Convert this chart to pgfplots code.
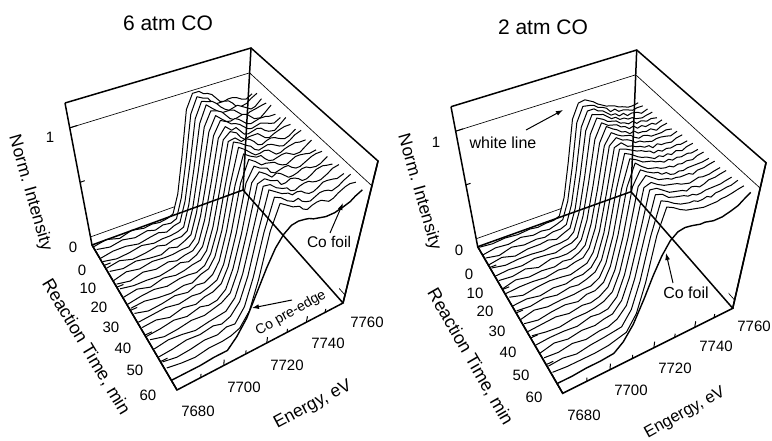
\documentclass[border=0pt]{standalone}
\usepackage{fontspec}
\setmainfont{Liberation Sans}
\usepackage{pgfplots}
\usepackage{pgfplotstable}
\pgfplotsset{compat=1.18}
\usetikzlibrary{arrows.meta}
\pgfmathdeclarefunction{lx}{3}{\pgfmathparse{(92+186.46*((#1-7680)/80)+53.44*(#2/60))/(1+0.1459*((#1-7680)/80)-0.1783*(#2/60))+(#3/1.2)*(-27+35*((#1-7680)/80)+27*(#2/60))}}
\pgfmathdeclarefunction{ly}{3}{\pgfmathparse{(245-27.28*((#1-7680)/80)+75.46*(#2/60))/(1+0.1459*((#1-7680)/80)-0.1783*(#2/60))-142*(#3/1.2)}}
\pgfmathdeclarefunction{rx}{3}{\pgfmathparse{(477.7+234.9*((#1-7680)/80)-13.8*(#2/60))/(1+0.1293*((#1-7680)/80)-0.1756*(#2/60))+(#3/1.2)*(-26.7+32.4*((#1-7680)/80)+27.6*(#2/60))}}
\pgfmathdeclarefunction{ry}{3}{\pgfmathparse{(246.7-30.21*((#1-7680)/80)+77.54*(#2/60))/(1+0.1293*((#1-7680)/80)-0.1756*(#2/60))-(140+1.7*((#1-7680)/80)+3.9*(#2/60))*(#3/1.2)}}
\pgfplotsset{
 table/lp/.style={x expr={lx(\thisrow{E},\thisrow{t},\thisrow{h})},y expr={ly(\thisrow{E},\thisrow{t},\thisrow{h})}},
 table/rp/.style={x expr={rx(\thisrow{E},\thisrow{t},\thisrow{h})},y expr={ry(\thisrow{E},\thisrow{t},\thisrow{h})}},
 thick frame/.style={draw=black,line width=1.5pt,no marks,forget plot,line join=miter},
 thin frame/.style={draw=black,line width=0.65pt,no marks,forget plot},
 tick seg/.style={draw=black,line width=1pt,no marks,forget plot,empty line=jump},
 curve/.style={draw=black,line width=1pt,no marks,forget plot,line join=round},
}
\tikzset{tk/.style={font=\fontsize{15}{15}\selectfont,inner sep=0pt}}
\pgfplotstableread{
E c0 c1 c2 c3 c4 c5 c6 c7 c8 c9 c10 c11 c12 c13 c14 c15 c16 c17 c18 c19 c20 c21
7680 .02 .04 .01 .03 .02 .04 .01 .03 .04 .02 .01 .03 .04 .02 .03 .01 .04 .02 .01 .03 .04 .01
7686 .04 .02 .03 .01 .04 .02 .04 .01 .02 .04 .03 .04 .01 .03 .04 .02 .01 .04 .02 .01 .02 .01
7692 .01 .04 .03 .02 .01 .04 .02 .04 .02 .01 .04 .02 .02 .04 .01 .04 .02 .03 .04 .02 .01 .01
7698 .04 .02 .01 .04 .02 .02 .04 .02 .01 .04 .02 .01 .04 .02 .04 .02 .04 .01 .03 .04 .03 .02
7704 .02 .04 .03 .02 .04 .01 .03 .04 .03 .02 .04 .03 .02 .04 .02 .05 .03 .03 .05 .03 .03 .02
7708 .03 .02 .04 .03 .02 .04 .03 .02 .05 .03 .04 .02 .05 .03 .05 .03 .05 .04 .03 .06 .04 .10
7712 .02 .04 .02 .03 .04 .02 .04 .04 .03 .05 .03 .06 .04 .05 .06 .04 .07 .05 .06 .05 .07 .22
7716 .03 .03 .05 .04 .04 .05 .04 .05 .06 .06 .06 .08 .08 .08 .10 .10 .12 .13 .15 .16 .18 .42
7719 .05 .05 .06 .06 .07 .08 .09 .10 .11 .12 .14 .16 .17 .19 .22 .25 .28 .31 .34 .38 .42 .58
7722 .20 .21 .22 .23 .24 .25 .26 .27 .28 .30 .32 .36 .40 .44 .48 .52 .58 .63 .69 .74 .80 .72
7725 .50 .50 .51 .52 .53 .54 .55 .56 .58 .61 .66 .72 .77 .83 .88 .93 .97 1.00 1.02 1.01 1.01 .81
7728 .88 .88 .88 .88 .89 .89 .90 .92 .95 .98 1.02 1.02 1.01 1.01 1.00 1.00 .99 .99 .98 .98 .97 .86
7731 1.00 1.01 1.01 1.02 1.01 1.01 1.01 1.00 1.00 .99 .99 .98 .97 .97 .96 .96 .95 .94 .94 .93 .93 .87
7734 1.00 .98 .99 .97 .99 .96 .98 .95 .97 .94 .95 .93 .94 .92 .94 .91 .93 .91 .92 .90 .91 .86
7736 .97 .97 .98 .94 .97 .93 .95 .96 .92 .95 .93 .90 .94 .92 .89 .93 .88 .90 .89 .91 .87 .85
7738 .96 .92 .95 .91 .93 .92 .94 .92 .89 .93 .89 .90 .90 .91 .87 .91 .88 .86 .90 .87 .85 .83
7740 .94 .90 .91 .91 .89 .93 .92 .88 .90 .90 .87 .91 .87 .90 .88 .88 .90 .85 .89 .85 .87 .82
7742 .90 .90 .88 .91 .87 .91 .89 .87 .90 .86 .88 .90 .86 .87 .89 .85 .89 .87 .86 .84 .88 .81
7744 .86 .90 .86 .90 .88 .88 .86 .88 .90 .85 .89 .87 .87 .85 .89 .85 .87 .88 .84 .86 .88 .80
7746 .85 .89 .87 .87 .89 .85 .85 .89 .87 .87 .88 .84 .88 .84 .86 .86 .84 .88 .84 .88 .86 .80
7748 .86 .86 .88 .84 .88 .84 .86 .88 .84 .88 .86 .84 .88 .86 .84 .88 .84 .86 .86 .88 .84 .80
7750 .86 .82 .86 .82 .85 .85 .87 .85 .83 .87 .84 .86 .86 .88 .84 .88 .86 .85 .89 .87 .85 .81
7752 .85 .81 .84 .84 .82 .86 .86 .83 .85 .85 .83 .87 .84 .88 .86 .86 .89 .85 .89 .85 .88 .82
7755 .82 .82 .81 .85 .81 .86 .84 .82 .87 .83 .86 .88 .84 .87 .89 .85 .90 .88 .88 .87 .91 .84
7757 .81 .85 .82 .86 .84 .85 .83 .85 .88 .84 .89 .87 .87 .86 .90 .86 .89 .91 .87 .90 .92 .87
7760 .84 .88 .87 .87 .89 .85 .86 .90 .88 .88 .91 .87 .91 .87 .90 .90 .88 .92 .89 .93 .91 .90
7760 0 0 0 0 0 0 0 0 0 0 0 0 0 0 0 0 0 0 0 0 0 0
}\tblA
\pgfplotstableread{
E c0 c1 c2 c3 c4 c5 c6 c7 c8 c9 c10 c11 c12 c13 c14 c15 c16 c17 c18 c19 c20 c21
7680 .03 .01 .03 .02 .04 .02 .03 .01 .02 .04 .02 .03 .01 .03 .02 .04 .02 .01 .03 .02 .03 .01
7686 .02 .03 .01 .04 .02 .03 .02 .04 .03 .01 .03 .02 .04 .01 .03 .02 .03 .04 .02 .03 .02 .01
7692 .03 .02 .04 .01 .03 .02 .04 .02 .03 .03 .01 .04 .02 .03 .04 .01 .03 .02 .04 .01 .02 .02
7698 .02 .04 .02 .03 .03 .04 .01 .03 .02 .04 .03 .02 .03 .04 .02 .03 .02 .04 .02 .03 .02 .02
7704 .03 .02 .03 .03 .02 .03 .04 .02 .04 .03 .02 .04 .03 .02 .04 .03 .05 .03 .04 .04 .03 .03
7708 .02 .03 .02 .04 .03 .02 .03 .04 .03 .02 .04 .03 .04 .05 .03 .04 .04 .05 .04 .05 .05 .09
7712 .03 .02 .04 .02 .03 .04 .03 .03 .05 .04 .04 .05 .04 .05 .05 .06 .05 .06 .07 .06 .07 .20
7716 .03 .04 .04 .05 .04 .05 .05 .06 .06 .06 .07 .08 .08 .09 .10 .11 .12 .14 .15 .17 .19 .38
7719 .05 .06 .06 .07 .08 .08 .10 .10 .12 .13 .14 .16 .18 .20 .22 .25 .28 .31 .35 .38 .42 .54
7722 .19 .20 .21 .22 .23 .24 .25 .26 .27 .29 .32 .36 .39 .44 .47 .52 .57 .62 .68 .73 .79 .68
7725 .47 .47 .48 .49 .50 .51 .52 .53 .56 .59 .65 .71 .76 .82 .87 .92 .96 .99 1.00 1.00 1.00 .78
7728 .82 .83 .83 .84 .85 .85 .86 .88 .92 .95 .98 .99 .99 1.00 .99 .99 .98 .98 .98 .97 .97 .83
7731 .94 .95 .95 .96 .97 .97 .98 .97 .97 .97 .96 .96 .96 .95 .95 .95 .94 .94 .93 .93 .93 .84
7734 .95 .94 .95 .94 .94 .93 .94 .93 .93 .92 .93 .92 .92 .91 .92 .91 .91 .90 .91 .90 .90 .83
7736 .93 .93 .92 .93 .91 .92 .92 .91 .92 .91 .91 .90 .91 .90 .91 .90 .90 .89 .90 .89 .89 .82
7738 .91 .90 .91 .90 .90 .91 .89 .90 .90 .89 .90 .89 .90 .89 .88 .89 .89 .88 .89 .88 .88 .81
7740 .88 .89 .88 .87 .89 .88 .88 .89 .87 .88 .88 .87 .88 .87 .88 .87 .88 .87 .87 .88 .87 .81
7742 .86 .87 .85 .87 .86 .87 .85 .86 .87 .86 .87 .85 .87 .86 .85 .87 .86 .85 .87 .86 .86 .80
7744 .84 .83 .85 .84 .85 .84 .86 .84 .85 .86 .84 .86 .85 .86 .84 .86 .85 .87 .85 .86 .86 .79
7746 .83 .84 .82 .84 .83 .85 .83 .85 .84 .83 .85 .84 .86 .84 .85 .86 .84 .86 .85 .87 .86 .79
7748 .82 .81 .83 .82 .84 .82 .83 .84 .83 .85 .83 .85 .84 .85 .84 .86 .85 .84 .86 .85 .86 .79
7750 .80 .81 .80 .82 .81 .83 .82 .82 .84 .83 .84 .83 .85 .84 .85 .84 .86 .85 .86 .87 .87 .80
7752 .79 .80 .81 .80 .82 .81 .83 .82 .84 .83 .83 .85 .84 .85 .85 .86 .85 .87 .86 .87 .87 .81
7755 .77 .78 .80 .79 .80 .82 .80 .82 .83 .82 .84 .83 .85 .84 .85 .86 .85 .87 .86 .88 .88 .83
7757 .77 .79 .78 .80 .81 .80 .82 .83 .82 .84 .83 .85 .84 .86 .85 .87 .86 .88 .87 .88 .89 .86
7760 .78 .79 .80 .81 .80 .82 .83 .82 .84 .85 .84 .86 .85 .87 .86 .88 .87 .89 .88 .90 .90 .90
7760 0 0 0 0 0 0 0 0 0 0 0 0 0 0 0 0 0 0 0 0 0 0
}\tblB
\begin{document}
\begin{tikzpicture}
\path[use as bounding box] (0,0) rectangle (772pt,441pt);
\begin{axis}[
 at={(0,0)},anchor=south west,
 scale only axis,width=772pt,height=441pt,
 xmin=0,xmax=772,ymin=0,ymax=441,y dir=reverse,hide axis,
]
% ---------- left panel: back walls
\addplot[thick frame] table[lp] {
E t h
7680 0 1.2
7760 0 1.2
7760 60 1.2
7760 60 0
};
\addplot[thick frame] table[lp] {
E t h
7680 60 0
7680 0 0
7680 0 1.2
};
\addplot[thin frame] table[lp] {
E t h
7680 0 .99
7760 0 .99
7760 60 .99
};
\addplot[thin frame] table[lp] {
E t h
7680 0 .068
7760 0 .068
7760 60 .068
};
\pgfplotsinvokeforeach{0,...,20}{
 \addplot[draw=none,fill=white,forget plot] table[x expr={lx(\thisrow{E},2+2.6*#1,\thisrow{c#1})},y expr={ly(\thisrow{E},2+2.6*#1,\thisrow{c#1})}] {\tblA};
 \addplot[curve,skip coords between index={26}{27}] table[x expr={lx(\thisrow{E},2+2.6*#1,\thisrow{c#1})},y expr={ly(\thisrow{E},2+2.6*#1,\thisrow{c#1})}] {\tblA};
}
\addplot[draw=none,fill=white,forget plot] table[x expr={lx(\thisrow{E},57,\thisrow{c21})},y expr={ly(\thisrow{E},57,\thisrow{c21})}] {\tblA};
\addplot[curve,line width=1.4pt,skip coords between index={26}{27}] table[x expr={lx(\thisrow{E},57,\thisrow{c21})},y expr={ly(\thisrow{E},57,\thisrow{c21})}] {\tblA};
\addplot[thick frame] table[lp] {
E t h
7680 0 0
7760 0 0
7760 60 0
7680 60 0
7680 0 0
};
\addplot[thick frame] table[lp] {
E t h
7760 0 0
7760 0 1.2
};
\addplot[thick frame] table[lp] {
E t h
7760 60 0
7760 60 1.2
};
\addplot[tick seg] table[lp] {
E t h
7690 60 0
7690 60 .03

7700 60 0
7700 60 .05

7710 60 0
7710 60 .03

7720 60 0
7720 60 .05

7730 60 0
7730 60 .03

7740 60 0
7740 60 .05

7750 60 0
7750 60 .03

7680 10 0
7683 10 0

7680 20 0
7683 20 0

7680 30 0
7683 30 0

7680 40 0
7683 40 0

7680 50 0
7683 50 0

7680 0 .53
7682 0 .53

7680 0 .99
7683 0 .99
};
% ---------- right panel
\addplot[thick frame] table[rp] {
E t h
7680 0 1.2
7760 0 1.2
7760 60 1.2
7760 60 0
};
\addplot[thick frame] table[rp] {
E t h
7680 60 0
7680 0 0
7680 0 1.2
};
\addplot[thin frame] table[rp] {
E t h
7680 0 .99
7760 0 .99
7760 60 .99
};
\addplot[thin frame] table[rp] {
E t h
7680 0 .068
7760 0 .068
7760 60 .068
};
\pgfplotsinvokeforeach{0,...,20}{
 \addplot[draw=none,fill=white,forget plot] table[x expr={rx(\thisrow{E},2+2.6*#1,\thisrow{c#1})},y expr={ry(\thisrow{E},2+2.6*#1,\thisrow{c#1})}] {\tblB};
 \addplot[curve,skip coords between index={26}{27}] table[x expr={rx(\thisrow{E},2+2.6*#1,\thisrow{c#1})},y expr={ry(\thisrow{E},2+2.6*#1,\thisrow{c#1})}] {\tblB};
}
\addplot[draw=none,fill=white,forget plot] table[x expr={rx(\thisrow{E},57,\thisrow{c21})},y expr={ry(\thisrow{E},57,\thisrow{c21})}] {\tblB};
\addplot[curve,line width=1.4pt,skip coords between index={26}{27}] table[x expr={rx(\thisrow{E},57,\thisrow{c21})},y expr={ry(\thisrow{E},57,\thisrow{c21})}] {\tblB};
\addplot[thick frame] table[rp] {
E t h
7680 0 0
7760 0 0
7760 60 0
7680 60 0
7680 0 0
};
\addplot[thick frame] table[rp] {
E t h
7760 0 0
7760 0 1.2
};
\addplot[thick frame] table[rp] {
E t h
7760 60 0
7760 60 1.2
};
\addplot[tick seg] table[rp] {
E t h
7690 60 0
7690 60 .03

7700 60 0
7700 60 .05

7710 60 0
7710 60 .03

7720 60 0
7720 60 .05

7730 60 0
7730 60 .03

7740 60 0
7740 60 .05

7750 60 0
7750 60 .03

7680 10 0
7683 10 0

7680 20 0
7683 20 0

7680 30 0
7683 30 0

7680 40 0
7683 40 0

7680 50 0
7683 50 0

7680 0 .53
7682 0 .53

7680 0 .99
7683 0 .99
};
% ---------- texts, left
\node[tk,font=\fontsize{21}{21}\selectfont] at (axis cs:168,23) {6 atm CO};
\node[tk] at (axis cs:73,247) {0};
\node[tk] at (axis cs:50,137) {1};
\node[tk] at (axis cs:82,270) {0};
\node[tk] at (axis cs:88,288) {10};
\node[tk] at (axis cs:99,307) {20};
\node[tk] at (axis cs:111,327) {30};
\node[tk] at (axis cs:123,348) {40};
\node[tk] at (axis cs:135,370) {50};
\node[tk] at (axis cs:148,395) {60};
\node[tk] at (axis cs:198,411) {7680};
\node[tk] at (axis cs:244,387) {7700};
\node[tk] at (axis cs:287,365) {7720};
\node[tk] at (axis cs:328,343) {7740};
\node[tk] at (axis cs:367,322) {7760};
\node[tk,rotate=-74,font=\fontsize{17.5}{17.5}\selectfont] at (axis cs:30,193) {Norm. Intensity};
\node[tk,rotate=-59,font=\fontsize{18}{18}\selectfont] at (axis cs:86,347) {Reaction Time, min};
\node[tk,rotate=28,font=\fontsize{17.5}{17.5}\selectfont] at (axis cs:313,405) {Energy, eV};
\node[tk,font=\fontsize{15.5}{15.5}\selectfont] at (axis cs:329,242) {Co foil};
\node[tk,rotate=29,font=\fontsize{14}{14}\selectfont] at (axis cs:291,313) {Co pre-edge};
\draw[-{Latex[length=7pt,width=5pt]},line width=1pt] (axis cs:330,233) -- (axis cs:343,203);
\draw[-{Latex[length=7pt,width=5pt]},line width=1pt] (axis cs:292,300) -- (axis cs:252,308);
% ---------- texts, right
\node[tk,font=\fontsize{21}{21}\selectfont] at (axis cs:543,27) {2 atm CO};
\node[tk] at (axis cs:459,250) {0};
\node[tk] at (axis cs:436,142) {1};
\node[tk] at (axis cs:469,274) {0};
\node[tk] at (axis cs:475,293) {10};
\node[tk] at (axis cs:485,311) {20};
\node[tk] at (axis cs:497,331) {30};
\node[tk] at (axis cs:508,352) {40};
\node[tk] at (axis cs:521,375) {50};
\node[tk] at (axis cs:534,397) {60};
\node[tk] at (axis cs:584,415) {7680};
\node[tk] at (axis cs:631,390) {7700};
\node[tk] at (axis cs:675,368) {7720};
\node[tk] at (axis cs:716,346) {7740};
\node[tk] at (axis cs:754,326) {7760};
\node[tk,rotate=-74,font=\fontsize{17.5}{17.5}\selectfont] at (axis cs:419,192) {Norm. Intensity};
\node[tk,rotate=-60,font=\fontsize{18}{18}\selectfont] at (axis cs:470,357) {Reaction Time, min};
\node[tk,rotate=29,font=\fontsize{16.5}{16.5}\selectfont] at (axis cs:685,413) {Engergy, eV};
\node[tk,font=\fontsize{16}{16}\selectfont] at (axis cs:686,293) {Co foil};
\node[tk,font=\fontsize{16}{16}\selectfont] at (axis cs:503,143) {white line};
\draw[-{Latex[length=7pt,width=5pt]},line width=1pt] (axis cs:673,283) -- (axis cs:666,253);
\draw[-{Latex[length=7pt,width=5pt]},line width=1pt] (axis cs:526,130) -- (axis cs:563,110);
\end{axis}
\end{tikzpicture}
\end{document}
